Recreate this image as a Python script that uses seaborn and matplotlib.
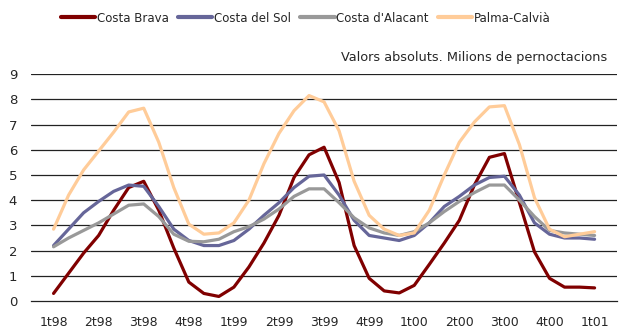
import numpy as np
import pandas as pd
import matplotlib
matplotlib.use("Agg")
import matplotlib.pyplot as plt
import seaborn as sns

# Quarter labels on the x axis
quarters = ["1t98", "2t98", "3t98", "4t98", "1t99", "2t99", "3t99",
            "4t99", "1t00", "2t00", "3t00", "4t00", "1t01"]

# Monthly values (millions of overnight stays)
costa_brava = [0.3, 1.1, 1.9, 2.6, 3.6, 4.5, 4.75, 3.6, 2.1, 0.75, 0.3, 0.18, 0.55,
               1.35, 2.3, 3.4, 4.9, 5.8, 6.1, 4.7, 2.2, 0.9, 0.4, 0.32, 0.62,
               1.45, 2.3, 3.2, 4.6, 5.7, 5.85, 3.9, 1.95, 0.9, 0.55, 0.55, 0.52]
costa_del_sol = [2.2, 2.85, 3.5, 3.95, 4.35, 4.6, 4.55, 3.75, 2.85, 2.4, 2.2, 2.2, 2.4,
                 2.85, 3.4, 3.9, 4.5, 4.95, 5.0, 4.2, 3.2, 2.6, 2.5, 2.4, 2.6,
                 3.1, 3.75, 4.15, 4.6, 4.9, 4.95, 4.2, 3.1, 2.65, 2.5, 2.5, 2.45]
costa_alacant = [2.15, 2.5, 2.8, 3.1, 3.45, 3.8, 3.85, 3.35, 2.65, 2.37, 2.35, 2.45, 2.75,
                 2.95, 3.25, 3.65, 4.15, 4.45, 4.45, 3.9, 3.3, 2.9, 2.7, 2.6, 2.75,
                 3.1, 3.55, 3.95, 4.3, 4.6, 4.6, 4.0, 3.35, 2.8, 2.7, 2.65, 2.6]
palma_calvia = [2.85, 4.2, 5.2, 5.95, 6.7, 7.5, 7.65, 6.3, 4.5, 3.05, 2.65, 2.7, 3.1,
                4.0, 5.45, 6.65, 7.55, 8.15, 7.9, 6.75, 4.75, 3.4, 2.85, 2.6, 2.7,
                3.6, 5.0, 6.3, 7.1, 7.7, 7.75, 6.2, 4.1, 2.85, 2.55, 2.65, 2.75]

series = {
    "Costa Brava": costa_brava,
    "Costa del Sol": costa_del_sol,
    "Costa d'Alacant": costa_alacant,
    "Palma-Calvià": palma_calvia,
}
colors = {
    "Costa Brava": "#800000",
    "Costa del Sol": "#666699",
    "Costa d'Alacant": "#999999",
    "Palma-Calvià": "#FFCC99",
}

# long format, x in quarter units (one month = 1/3)
month_pos = np.arange(len(costa_brava)) / 3
df = pd.concat([pd.DataFrame({"x": month_pos, "value": v, "zone": k})
                for k, v in series.items()], ignore_index=True)

sns.set_style("white")
plt.rcParams["font.family"] = ["DejaVu Sans"]

fig = plt.figure(figsize=(6.24, 3.34), dpi=100)
ax = fig.add_axes([0.0497, 0.0988, 0.9393, 0.6792])

# grid lines behind the series
for yv in range(1, 10):
    ax.axhline(yv, color="#222222", lw=0.9, zorder=0)

sns.lineplot(data=df, x="x", y="value", hue="zone", palette=colors,
             linewidth=2.3, ax=ax, legend=False, zorder=2)

ax.set_xlim(-0.5, len(quarters) - 0.5)
ax.set_ylim(0, 9)
ax.set_yticks(range(0, 10))
ax.set_xticks(np.arange(len(quarters) + 1) - 0.5)
ax.set_xticklabels([])
ax.set_xticks(np.arange(len(quarters)), minor=True)
ax.set_xticklabels(quarters, minor=True)
ax.tick_params(axis="x", which="major", direction="inout", length=7, width=0.9, color="#222222")
ax.tick_params(axis="x", which="minor", length=0, pad=11, labelsize=9)
ax.tick_params(axis="y", length=0, pad=10, labelsize=9.5)
ax.set_xlabel("")
ax.set_ylabel("")

for s in ["top", "right", "left"]:
    ax.spines[s].set_visible(False)
ax.spines["bottom"].set_color("#222222")
ax.spines["bottom"].set_linewidth(0.9)

# legend across the top
handles = [plt.Line2D([], [], color=colors[k], lw=3) for k in series]
fig.legend(handles, list(series.keys()), loc="center", bbox_to_anchor=(0.49, 0.946),
           ncol=4, frameon=False, fontsize=8.5, handlelength=2.9,
           handletextpad=0.15, columnspacing=0.8)

fig.text(0.973, 1 - 58 / 334, "Valors absoluts. Milions de pernoctacions",
         ha="right", va="center", fontsize=9.3)

fig.savefig("out.png", dpi=100)
